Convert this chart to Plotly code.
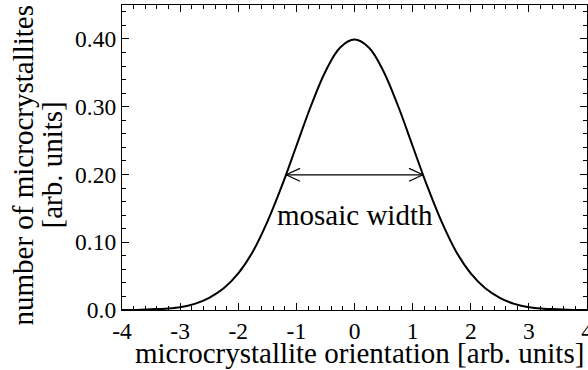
import plotly.graph_objects as go

# Distribution of microcrystallite orientations (Gaussian profile)
orientation = [-4.0, -3.75, -3.5, -3.25, -3.0, -2.75, -2.5, -2.25, -2.0, -1.75,
               -1.5, -1.25, -1.0, -0.75, -0.5, -0.25, 0.0, 0.25, 0.5, 0.75,
               1.0, 1.25, 1.5, 1.75, 2.0, 2.25, 2.5, 2.75, 3.0, 3.25, 3.5,
               3.75, 4.0]
count = [0.000, 0.000, 0.001, 0.002, 0.004, 0.009, 0.018, 0.032, 0.054, 0.086,
         0.130, 0.183, 0.242, 0.301, 0.352, 0.387, 0.399, 0.387, 0.352, 0.301,
         0.242, 0.183, 0.130, 0.086, 0.054, 0.032, 0.018, 0.009, 0.004, 0.002,
         0.001, 0.000, 0.000]

# Half width at half maximum and the level where the width is measured
half_width = 1.1775
half_level = 0.1995

y_ticks = [0.0, 0.1, 0.2, 0.3, 0.4]
y_tick_text = ["0.0", "0.10", "0.20", "0.30", "0.40"]
x_ticks = [-4, -3, -2, -1, 0, 1, 2, 3, 4]

FONT = "Liberation Serif"
TITLE_SIZE = 29

fig = go.Figure()
fig.add_trace(go.Scatter(x=orientation, y=count, mode="lines",
                         line=dict(color="black", width=2, shape="spline"),
                         hoverinfo="skip"))

# double-headed arrow marking the mosaic width
head_dx = 0.24
head_dy = 0.0095
arrow_x = [-half_width, half_width, None,
           -half_width + head_dx, -half_width, -half_width + head_dx, None,
           half_width - head_dx, half_width, half_width - head_dx]
arrow_y = [half_level, half_level, None,
           half_level + head_dy, half_level, half_level - head_dy, None,
           half_level + head_dy, half_level, half_level - head_dy]
fig.add_trace(go.Scatter(x=arrow_x, y=arrow_y, mode="lines",
                         line=dict(color="black", width=1.3),
                         hoverinfo="skip"))

fig.add_annotation(x=0, y=0.14, text="mosaic width", showarrow=False,
                   font=dict(family=FONT, size=TITLE_SIZE, color="black"))

# axis titles
title_font = dict(family=FONT, size=TITLE_SIZE, color="black")
fig.add_annotation(xref="paper", yref="paper", x=0.5118, y=-0.141,
                   xanchor="center", yanchor="middle",
                   text="microcrystallite orientation [arb. units]",
                   showarrow=False, font=title_font)
fig.add_annotation(xref="paper", yref="paper", x=-0.2129, y=0.4738,
                   xanchor="center", yanchor="middle",
                   text="number of microcrystallites",
                   showarrow=False, textangle=-90, font=title_font)
fig.add_annotation(xref="paper", yref="paper", x=-0.1505, y=0.4738,
                   xanchor="center", yanchor="middle",
                   text="[arb. units]",
                   showarrow=False, textangle=-90, font=title_font)

axis_common = dict(showgrid=False, zeroline=False, showline=True,
                   linecolor="black", linewidth=1.3, mirror="ticks",
                   ticks="inside", tickcolor="black", tickwidth=1,
                   ticklen=7, ticklabeloverflow="allow", automargin=False,
                   tickfont=dict(family=FONT, size=23.5, color="black"))

fig.update_xaxes(range=[-4, 4], tickvals=x_ticks,
                 ticktext=[str(v) for v in x_ticks],
                 minor=dict(ticks="inside", ticklen=3.5, dtick=0.2,
                            tickcolor="black", tickwidth=1),
                 **axis_common)
fig.update_yaxes(range=[0, 0.45], tickvals=y_ticks, ticktext=y_tick_text,
                 minor=dict(ticks="inside", ticklen=3.5, dtick=0.02,
                            tickcolor="black", tickwidth=1),
                 **axis_common)

fig.update_layout(width=588, height=370, showlegend=False,
                  margin=dict(l=122, r=1, t=5, b=60, autoexpand=False),
                  plot_bgcolor="white", paper_bgcolor="white",
                  font=dict(family=FONT, color="black"))

fig.write_html("out.html")
